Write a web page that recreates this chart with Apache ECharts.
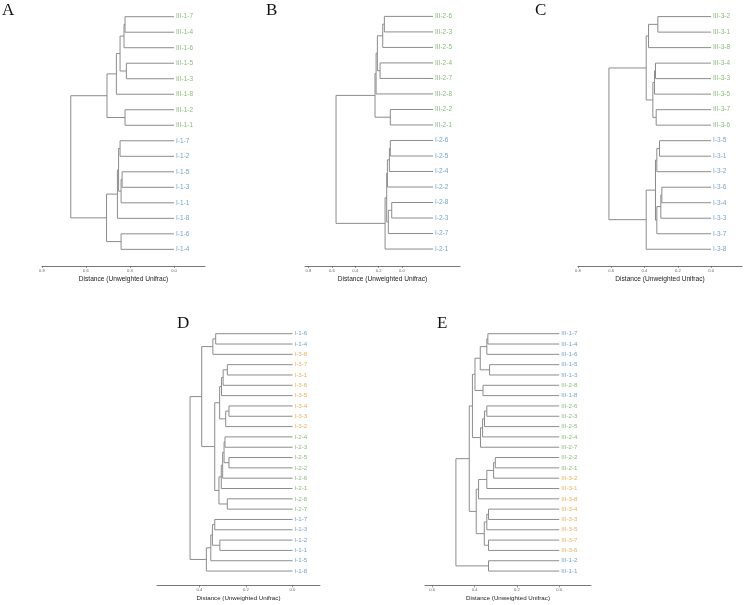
<!DOCTYPE html>
<html><head><meta charset="utf-8">
<script src="https://cdn.jsdelivr.net/npm/echarts@6/dist/echarts.min.js"></script>
<style>html,body{margin:0;padding:0;background:#fff}#c{width:746px;height:605px}</style>
</head><body><div id="c"></div>
<script>
// ---------------- DATA ----------------
// leaf order (top to bottom) and merges [childA, childB, height]; numbers refer to earlier merges
const leavesA = ['III-1-7','III-1-4','III-1-6','III-1-5','III-1-3','III-1-8','III-1-2','III-1-1','I-1-7','I-1-2','I-1-5','I-1-3','I-1-1','I-1-8','I-1-6','I-1-4'];
const linksA = [
  ['III-1-7','III-1-4',0.334],[0,'III-1-6',0.341],['III-1-5','III-1-3',0.325],[1,2,0.368],[3,'III-1-8',0.393],
  ['III-1-2','III-1-1',0.334],[4,5,0.457],
  ['I-1-7','I-1-2',0.368],['I-1-5','I-1-3',0.354],[8,'I-1-1',0.361],[7,9,0.378],[10,'I-1-8',0.386],
  ['I-1-6','I-1-4',0.361],[11,12,0.460],[6,13,0.704]
];
const ticksA = [0.9,0.6,0.3,0.0];

const leavesB = ['III-2-6','III-2-3','III-2-5','III-2-4','III-2-7','III-2-8','III-2-2','III-2-1','I-2-6','I-2-5','I-2-4','I-2-2','I-2-8','I-2-3','I-2-7','I-2-1'];
const linksB = [
  ['III-2-6','III-2-3',0.417],[0,'III-2-5',0.431],['III-2-4','III-2-7',0.454],[1,2,0.477],[3,'III-2-8',0.488],
  ['III-2-2','III-2-1',0.366],[4,5,0.497],
  ['I-2-6','I-2-5',0.366],[7,'I-2-4',0.374],[8,'I-2-2',0.391],['I-2-8','I-2-3',0.354],[10,'I-2-7',0.383],
  [9,11,0.397],[12,'I-2-1',0.411],[6,13,0.831]
];
const ticksB = [0.8,0.6,0.4,0.2,0.0];

const leavesC = ['III-3-2','III-3-1','III-3-8','III-3-4','III-3-3','III-3-5','III-3-7','III-3-6','I-3-5','I-3-1','I-3-2','I-3-6','I-3-4','I-3-3','I-3-7','I-3-8'];
const linksC = [
  ['III-3-2','III-3-1',0.320],[0,'III-3-8',0.376],['III-3-4','III-3-3',0.334],[2,'III-3-5',0.340],
  ['III-3-7','III-3-6',0.330],[3,4,0.350],[1,5,0.390],
  ['I-3-5','I-3-1',0.310],[7,'I-3-2',0.326],['I-3-6','I-3-4',0.296],[9,'I-3-3',0.302],[10,'I-3-7',0.326],
  [8,11,0.334],[12,'I-3-8',0.390],[6,13,0.614]
];
const ticksC = [0.8,0.6,0.4,0.2,0.0];

const leavesD = ['I-1-6','I-1-4','I-3-8','I-3-7','I-3-1','I-3-6','I-3-5','I-3-4','I-3-3','I-3-2','I-2-4','I-2-3','I-2-5','I-2-2','I-2-6','I-2-1','I-2-8','I-2-7','I-1-7','I-1-3','I-1-2','I-1-1','I-1-5','I-1-8'];
const linksD = [
  ['I-1-6','I-1-4',0.330],[0,'I-3-8',0.342],
  ['I-3-7','I-3-1',0.280],[2,'I-3-6',0.298],[3,'I-3-5',0.305],['I-3-4','I-3-3',0.273],[5,'I-3-2',0.287],[4,6,0.313],
  ['I-2-4','I-2-3',0.290],['I-2-5','I-2-2',0.273],[8,9,0.294],[10,'I-2-6',0.300],[11,'I-2-1',0.306],
  ['I-2-8','I-2-7',0.280],[12,13,0.316],[7,14,0.334],[1,15,0.390],
  ['I-1-7','I-1-3',0.334],['I-1-2','I-1-1',0.312],[17,18,0.344],[19,'I-1-5',0.351],[20,'I-1-8',0.370],
  [16,21,0.440]
];
const ticksD = [0.4,0.2,0.0];

const leavesE = ['III-1-7','III-1-4','III-1-6','III-1-5','III-1-3','III-2-8','III-1-8','III-2-6','III-2-3','III-2-5','III-2-4','III-2-7','III-2-2','III-2-1','III-3-2','III-3-1','III-3-8','III-3-4','III-3-3','III-3-5','III-3-7','III-3-6','III-1-2','III-1-1'];
const linksE = [
  ['III-1-7','III-1-4',0.337],[0,'III-1-6',0.342],['III-1-5','III-1-3',0.329],[1,2,0.373],
  ['III-2-8','III-1-8',0.360],[3,4,0.398],
  ['III-2-6','III-2-3',0.342],[6,'III-2-5',0.353],[7,'III-2-4',0.362],[8,'III-2-7',0.372],[5,9,0.410],
  ['III-2-2','III-2-1',0.302],[11,'III-3-2',0.310],[12,'III-3-1',0.342],[13,'III-3-8',0.381],
  ['III-3-4','III-3-3',0.334],[15,'III-3-5',0.342],['III-3-7','III-3-6',0.334],[16,17,0.354],[14,18,0.392],
  [10,19,0.425],['III-1-2','III-1-1',0.334],[20,21,0.488]
];
const ticksE = [0.6,0.4,0.2,0.0];

// label colours by leaf-name prefix
const GREEN = '#6aab55', BLUE = '#4f8bc0', ORANGE = '#eb9a34';
const colorsTop = {'III': GREEN, 'I': BLUE};
const colorsD = {'I-1': BLUE, 'I-2': GREEN, 'I-3': ORANGE};
const colorsE = {'III-1': BLUE, 'III-2': GREEN, 'III-3': ORANGE};

// ---------------- LAYOUT ----------------
const panels = [
  {letter:'A', lx:2,   ly:2,   leaves:leavesA, links:linksA, ticks:ticksA, colors:colorsTop, left:42,  right:205, axisY:266, y0:16.7,  sp:15.51, axis:[-0.211,0.9],  tree:null,            fs:6.5, nfs:6.6},
  {letter:'B', lx:266, ly:2,   leaves:leavesB, links:linksB, ticks:ticksB, colors:colorsTop, left:305, right:460, axisY:266, y0:16.4,  sp:15.51, axis:[-0.497,0.83], tree:[-0.231,1.097],  fs:6.5, nfs:6.6},
  {letter:'C', lx:535, ly:2,   leaves:leavesC, links:linksC, ticks:ticksC, colors:colorsTop, left:578, right:742, axisY:266, y0:16.6,  sp:15.51, axis:[-0.186,0.8],  tree:null,            fs:6.5, nfs:6.6},
  {letter:'D', lx:177, ly:315, leaves:leavesD, links:linksD, ticks:ticksD, colors:colorsD,   left:157, right:320, axisY:585.5, y0:333.7, sp:10.32, axis:[-0.118,0.582], tree:null,          fs:6.2, nfs:6.2},
  {letter:'E', lx:437, ly:315, leaves:leavesE, links:linksE, ticks:ticksE, colors:colorsE,   left:425, right:591, axisY:585.5, y0:333.7, sp:10.32, axis:[-0.150,0.634], tree:null,          fs:6.2, nfs:6.2}
];

function colorOf(name, map){
  let best = null;
  Object.keys(map).forEach(k => { if (name.startsWith(k + '-') && (!best || k.length > best.length)) best = k; });
  return map[best];
}

function buildTree(leaves, links){
  const pos = {}; leaves.forEach((n,i)=>{ pos[n] = {y:i, h:0}; });
  const nodes = [];
  const segs = [];
  links.forEach(([a,b,h]) => {
    const ca = typeof a === 'number' ? nodes[a] : pos[a];
    const cb = typeof b === 'number' ? nodes[b] : pos[b];
    segs.push([h, ca.y, ca.h, cb.y, cb.h]);
    nodes.push({y:(ca.y+cb.y)/2, h:h});
  });
  return segs;
}

const W = 746, H = 605;
const option = {animation:false, grid:[], xAxis:[], yAxis:[], series:[], graphic:[]};
const FONT = 'Liberation Sans, Arial, sans-serif';

panels.forEach((p, k) => {
  const top = p.y0 - p.sp;
  option.grid.push({left:p.left, top:top, width:p.right - p.left, height:p.axisY - top, containLabel:false});
  const yMax = (p.axisY - p.y0) / p.sp;
  const yIdx = option.yAxis.length;
  option.yAxis.push({type:'value', gridIndex:k, inverse:true, min:-1, max:yMax, show:false});
  const axIdx = option.xAxis.length;
  option.xAxis.push({
    type:'value', gridIndex:k, position:'bottom', inverse:true, min:p.axis[0], max:p.axis[1],
    name:'Distance (Unweighted Unifrac)', nameLocation:'middle', nameGap:10,
    nameTextStyle:{fontSize:p.nfs, color:'#222', fontFamily:FONT},
    axisLine:{show:true, onZero:false, lineStyle:{color:'#555', width:0.8}},
    axisTick:{show:true, customValues:p.ticks, length:2, lineStyle:{color:'#555', width:0.6}},
    axisLabel:{show:true, customValues:p.ticks, formatter:v=>v.toFixed(1), fontSize:4.2, color:'#666', margin:2.5, fontFamily:FONT},
    splitLine:{show:false}
  });
  let treeIdx = axIdx;
  if (p.tree){
    treeIdx = option.xAxis.length;
    option.xAxis.push({type:'value', gridIndex:k, inverse:true, min:p.tree[0], max:p.tree[1], show:false, splitLine:{show:false}});
  }
  const segs = buildTree(p.leaves, p.links);
  option.series.push({
    type:'custom', xAxisIndex:treeIdx, yAxisIndex:yIdx, silent:true, clip:false,
    data: segs,
    encode:{x:[0,2,4], y:[1,3]},
    renderItem:(params, api) => {
      const h = api.value(0), y1 = api.value(1), h1 = api.value(2), y2 = api.value(3), h2 = api.value(4);
      const pts = [api.coord([h1,y1]), api.coord([h,y1]), api.coord([h,y2]), api.coord([h2,y2])];
      return {type:'polyline', shape:{points:pts}, style:{stroke:'#8c8c8c', lineWidth:1, fill:null}};
    }
  });
  option.series.push({
    type:'scatter', xAxisIndex:treeIdx, yAxisIndex:yIdx, silent:true, symbolSize:0,
    data: p.leaves.map((n,i) => ({name:n, value:[0,i], label:{color:colorOf(n, p.colors)}})),
    label:{show:true, position:'right', distance:2, formatter:'{b}', fontSize:p.fs, fontFamily:FONT},
    emphasis:{disabled:true}
  });
  option.graphic.push({type:'text', left:p.lx, top:p.ly, silent:true,
    style:{text:p.letter, font:'17px "Liberation Serif", "Times New Roman", serif', fill:'#111'}});
});

const chart = echarts.init(document.getElementById('c'), null, {renderer:'canvas', width:W, height:H});
chart.setOption(option);
</script></body></html>
